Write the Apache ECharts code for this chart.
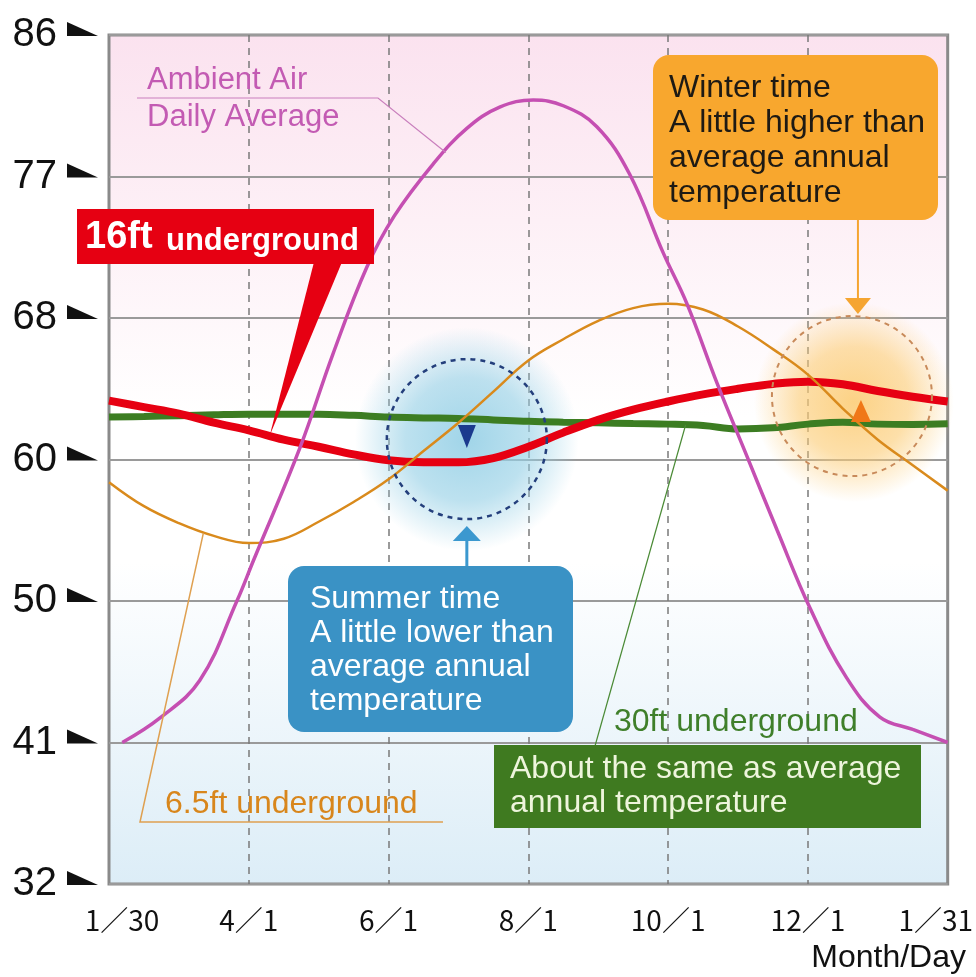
<!DOCTYPE html>
<html>
<head>
<meta charset="utf-8">
<title>Underground temperature</title>
<script src="https://cdn.jsdelivr.net/npm/echarts@6/dist/echarts.min.js"></script>
<style>
  html, body { margin: 0; padding: 0; background: #fff; }
  #chart { width: 976px; height: 977px; }
</style>
</head>
<body>
<div id="chart"></div>
<script>
// x: months counted from 1/30 (one tick = 2 months), y: degrees C, shown as °F
var xTickLabels = ['1／30', '4／1', '6／1', '8／1', '10／1', '12／1', '1／31']
var yTickLabels = ['32', '41', '50', '60', '68', '77', '86']

var months = [0, 0.5, 1, 1.5, 2, 2.5, 3, 3.5, 4, 4.5, 5, 5.5, 6, 6.5, 7, 7.5, 8, 8.5, 9, 9.5, 10, 10.5, 11, 11.5, 12]
var temp65ft = [14.2, 13.35, 12.75, 12.3, 12.05, 12.2, 12.8, 13.5, 14.3, 15.3, 16.3, 17.4, 18.5, 19.25, 19.9, 20.35, 20.5, 20.3, 19.7, 18.9, 18.0, 16.8, 15.7, 14.8, 13.9]
var temp16ft = [17.08, 16.85, 16.62, 16.3, 16.03, 15.7, 15.45, 15.18, 14.97, 14.9, 14.9, 15.05, 15.45, 15.95, 16.4, 16.76, 17.05, 17.3, 17.5, 17.67, 17.75, 17.66, 17.42, 17.22, 17.05]
var temp30ft = [16.5, 16.52, 16.55, 16.58, 16.6, 16.6, 16.6, 16.56, 16.5, 16.47, 16.45, 16.4, 16.35, 16.32, 16.3, 16.27, 16.25, 16.2, 16.08, 16.12, 16.25, 16.32, 16.25, 16.24, 16.26]

var ambientMonths = [0.19, 0.73, 1.3, 1.83, 2.07, 2.73, 3.2, 3.69, 4.08, 4.64, 5.12, 5.59, 6.07, 6.5, 6.98, 7.45, 7.93, 8.27, 8.7, 9.13, 9.56, 10.03, 10.55, 11.03, 11.5, 12]
var ambientTemp = [5.0, 5.87, 7.2, 10.0, 11.45, 15.4, 18.7, 21.8, 23.6, 25.45, 26.7, 27.45, 27.7, 27.5, 26.76, 25.08, 22.3, 20.5, 17.7, 15.1, 12.5, 9.75, 7.3, 5.9, 5.46, 5.0]

function pairs (xs, ys) {
  return xs.map(function (x, i) { return [x, ys[i]] })
}

var font = '"Liberation Sans", Arial, sans-serif'
var cjk = '"Noto Sans CJK JP", sans-serif'
var chart = echarts.init(document.getElementById('chart'))

chart.setOption({
  animation: false,
  grid: {
    left: 109,
    right: 28,
    top: 35,
    bottom: 93,
    show: true,
    borderColor: '#8a8a8a',
    borderWidth: 3,
    backgroundColor: {
      type: 'linear', x: 0, y: 0, x2: 0, y2: 1,
      colorStops: [
        { offset: 0, color: '#fbe2ef' },
        { offset: 0.22, color: '#fdf0f6' },
        { offset: 0.45, color: '#ffffff' },
        { offset: 0.62, color: '#ffffff' },
        { offset: 1, color: '#dcedf7' }
      ]
    }
  },
  xAxis: {
    type: 'value',
    min: 0,
    max: 12,
    interval: 2,
    axisLine: { show: false },
    axisTick: { show: false },
    splitLine: {
      show: true,
      showMinLine: false,
      showMaxLine: false,
      lineStyle: { color: '#7a7a7a', width: 1.5, type: [7, 6] }
    },
    axisLabel: {
      margin: 22,
      color: '#111',
      fontSize: 28,
      fontFamily: cjk,
      formatter: function (v) {
        var i = Math.round(v / 2)
        if (i === 0) return '{first|' + xTickLabels[i] + '}'
        if (i === 6) return '{last|' + xTickLabels[i] + '}'
        return xTickLabels[i]
      },
      rich: {
        first: { fontSize: 28, fontFamily: cjk, color: '#111', padding: [0, 0, 0, 26] },
        last: { fontSize: 28, fontFamily: cjk, color: '#111', padding: [0, 24, 0, 0] }
      }
    }
  },
  yAxis: {
    type: 'value',
    min: 0,
    max: 30,
    interval: 5,
    axisLine: { show: false },
    axisTick: { show: false },
    splitLine: { lineStyle: { color: '#9a9a9a', width: 2 } },
    axisLabel: {
      margin: 52,
      color: '#111',
      fontSize: 40,
      fontFamily: font,
      padding: [0, 0, 18, 0],
      formatter: function (v) { return yTickLabels[Math.round(v / 5)] }
    }
  },
  series: [
    {
      name: '30ft underground',
      type: 'line',
      smooth: 0.4,
      symbol: 'none',
      data: pairs(months, temp30ft),
      lineStyle: { color: '#3c7d22', width: 7 },
      z: 3
    },
    {
      name: '16ft underground',
      type: 'line',
      smooth: 0.4,
      symbol: 'none',
      data: pairs(months, temp16ft),
      lineStyle: { color: '#e60012', width: 8 },
      z: 4
    },
    {
      name: '6.5ft underground',
      type: 'line',
      smooth: 0.4,
      symbol: 'none',
      data: pairs(months, temp65ft),
      lineStyle: { color: '#d98a1c', width: 2.5 },
      z: 5
    },
    {
      name: 'Ambient Air Daily Average',
      type: 'line',
      smooth: 0.4,
      symbol: 'none',
      data: pairs(ambientMonths, ambientTemp),
      lineStyle: { color: '#c54fb2', width: 3.5 },
      z: 6
    }
  ]
})

function px (m, c) {
  return chart.convertToPixel({ gridIndex: 0 }, [m, c])
}

function glow (r, g, b, a) {
  return {
    type: 'radial', x: 0.5, y: 0.5, r: 0.5,
    colorStops: [
      { offset: 0, color: 'rgba(' + r + ',' + g + ',' + b + ',' + a + ')' },
      { offset: 0.55, color: 'rgba(' + r + ',' + g + ',' + b + ',' + (a * 0.7) + ')' },
      { offset: 1, color: 'rgba(' + r + ',' + g + ',' + b + ',0)' }
    ]
  }
}

function text (x, y, str, size, color, weight, extra) {
  var el = {
    type: 'text',
    z: 20,
    silent: true,
    style: {
      x: x,
      y: y,
      text: str,
      fill: color,
      font: (weight || 'normal') + ' ' + size + 'px ' + font,
      textVerticalAlign: 'middle',
      lineHeight: 34
    }
  }
  if (extra) Object.assign(el.style, extra)
  return el
}

var summer = px(5.12, 15.72)
var winter = px(10.63, 17.24)
var ambientTip = px(4.82, 25.85)
var redTip = px(2.3, 15.85)
var greenTip = px(8.25, 16.22)
var orangeTip = px(1.35, 12.4)

var g = []

// glows and dashed rings
g.push({ type: 'circle', z: 1, silent: true, shape: { cx: summer[0], cy: summer[1], r: 112 }, style: { fill: glow(150, 208, 230, 0.9) } })
g.push({ type: 'circle', z: 1, silent: true, shape: { cx: winter[0] + 2, cy: winter[1] + 6, r: 100 }, style: { fill: glow(252, 205, 120, 0.9) } })
g.push({ type: 'circle', z: 8, silent: true, shape: { cx: summer[0], cy: summer[1], r: 80 }, style: { fill: 'none', stroke: '#243f7c', lineWidth: 2.5, lineDash: [5, 5] } })
g.push({ type: 'circle', z: 8, silent: true, shape: { cx: winter[0], cy: winter[1], r: 80 }, style: { fill: 'none', stroke: '#c88a5a', lineWidth: 2, lineDash: [5, 5] } })

// markers inside the rings
g.push({ type: 'polygon', z: 9, silent: true, shape: { points: [[summer[0] - 9, summer[1] - 14], [summer[0] + 9, summer[1] - 14], [summer[0], summer[1] + 9]] }, style: { fill: '#1b3a8e' } })
g.push({ type: 'polygon', z: 9, silent: true, shape: { points: [[winter[0] - 1, winter[1] + 26], [winter[0] + 19, winter[1] + 26], [winter[0] + 9, winter[1] + 4]] }, style: { fill: '#f07818' } })

// arrows
g.push({ type: 'line', z: 9, silent: true, shape: { x1: summer[0], y1: summer[1] + 100, x2: summer[0], y2: 568 }, style: { stroke: '#3b98cf', lineWidth: 3 } })
g.push({ type: 'polygon', z: 9, silent: true, shape: { points: [[summer[0] - 14, summer[1] + 102], [summer[0] + 14, summer[1] + 102], [summer[0], summer[1] + 87]] }, style: { fill: '#3b98cf' } })
g.push({ type: 'line', z: 9, silent: true, shape: { x1: winter[0] + 6, y1: 220, x2: winter[0] + 6, y2: winter[1] - 97 }, style: { stroke: '#f5a531', lineWidth: 2 } })
g.push({ type: 'polygon', z: 9, silent: true, shape: { points: [[winter[0] - 7, winter[1] - 98], [winter[0] + 19, winter[1] - 98], [winter[0] + 6, winter[1] - 82]] }, style: { fill: '#f5a531' } })

// leader lines
g.push({ type: 'polyline', z: 7, silent: true, shape: { points: [[137, 98], [378, 98], ambientTip] }, style: { stroke: '#c97fbd', lineWidth: 1.2, fill: 'none' } })
g.push({ type: 'polyline', z: 7, silent: true, shape: { points: [[443, 822], [140, 822], orangeTip] }, style: { stroke: '#dfa050', lineWidth: 1.5, fill: 'none' } })
g.push({ type: 'line', z: 7, silent: true, shape: { x1: 595, y1: 746, x2: greenTip[0], y2: greenTip[1] }, style: { stroke: '#4a8a35', lineWidth: 1.2 } })

// callout boxes
g.push({ type: 'polygon', z: 15, silent: true, shape: { points: [[314, 262], [342, 262], redTip] }, style: { fill: '#e60012' } })
g.push({ type: 'rect', z: 15, silent: true, shape: { x: 77, y: 209, width: 297, height: 55 }, style: { fill: '#e60012' } })
g.push({ type: 'rect', z: 15, silent: true, shape: { x: 653, y: 55, width: 285, height: 165, r: 16 }, style: { fill: '#f8a72e' } })
g.push({ type: 'rect', z: 15, silent: true, shape: { x: 288, y: 566, width: 285, height: 166, r: 16 }, style: { fill: '#3a92c5' } })
g.push({ type: 'rect', z: 15, silent: true, shape: { x: 494, y: 745, width: 427, height: 83 }, style: { fill: '#3f7a20' } })

// callout texts
g.push(text(85, 238, '16ft', 38, '#ffffff', 'bold'))
g.push(text(166, 241, 'underground', 31, '#ffffff', 'bold'))
g.push(text(669, 141, 'Winter time\nA little higher than\naverage annual\ntemperature', 32, '#1e1a14', 'normal', { lineHeight: 35 }))
g.push(text(310, 650, 'Summer time\nA little lower than\naverage annual\ntemperature', 32, '#ffffff', 'normal', { lineHeight: 34 }))
g.push(text(510, 786, 'About the same as average\nannual temperature', 32, '#eef5dc', 'normal', { lineHeight: 34 }))
g.push(text(147, 99, 'Ambient Air\nDaily Average', 31, '#c35bb3', 'normal', { lineHeight: 37 }))
g.push(text(614, 722, '30ft underground', 32, '#3f7f2a'))
g.push(text(165, 804, '6.5ft underground', 32, '#d8861c'))
g.push(text(966, 958, 'Month/Day', 32, '#111', 'normal', { textAlign: 'right' }))

// arrowheads beside the y tick labels
for (var i = 0; i < yTickLabels.length; i++) {
  var y = px(0, i * 5)[1]
  g.push({ type: 'polygon', z: 20, silent: true, shape: { points: [[67, y - 13], [67, y + 1], [98, y + 1]] }, style: { fill: '#111' } })
}

chart.setOption({ graphic: { elements: g } })
</script>
</body>
</html>
